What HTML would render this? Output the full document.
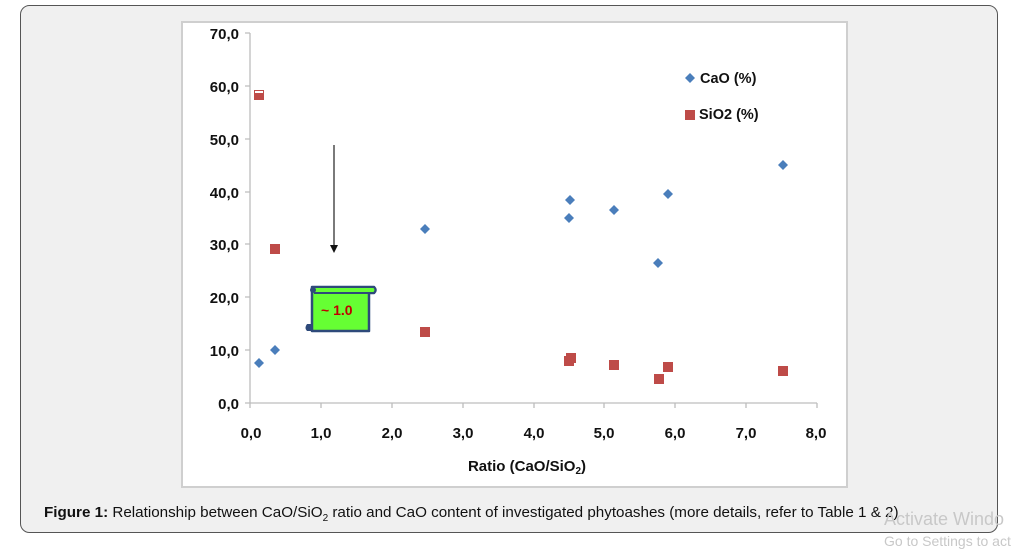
<!DOCTYPE html>
<html><head><meta charset="utf-8"><style>
body{margin:0;width:1018px;height:549px;background:#fff;overflow:hidden;font-family:"Liberation Sans",sans-serif}
</style></head><body>
<svg width="1018" height="549" xmlns="http://www.w3.org/2000/svg" style="position:absolute;left:0;top:0">
<rect x="20.5" y="5.5" width="977" height="527" rx="9" fill="#f0f0f0" stroke="#555" stroke-width="1"/>
<rect x="182" y="22" width="665" height="465" fill="#fff" stroke="#cfcfcf" stroke-width="2"/>
<g stroke="#bdbdbd" stroke-width="1.3" fill="none">
<line x1="250" y1="33" x2="250" y2="403"/>
<line x1="250" y1="403" x2="817" y2="403"/>
<path d="M245 33H250M245 86H250M245 139H250M245 192H250M245 244H250M245 297H250M245 350H250M245 403H250"/>
<path d="M250 403V408M321 403V408M392 403V408M463 403V408M534 403V408M604 403V408M675 403V408M746 403V408M817 403V408"/>
</g>
<g font-family="Liberation Sans, DejaVu Sans, sans-serif" font-weight="bold" font-size="15" fill="#111" text-anchor="end">
<text x="239" y="39">70,0</text><text x="239" y="92">60,0</text><text x="239" y="145">50,0</text><text x="239" y="198">40,0</text><text x="239" y="250">30,0</text><text x="239" y="303">20,0</text><text x="239" y="356">10,0</text><text x="239" y="409">0,0</text>
</g>
<g font-family="Liberation Sans, DejaVu Sans, sans-serif" font-weight="bold" font-size="15" fill="#111" text-anchor="middle">
<text x="251" y="438">0,0</text><text x="321" y="438">1,0</text><text x="392" y="438">2,0</text><text x="463" y="438">3,0</text><text x="534" y="438">4,0</text><text x="604" y="438">5,0</text><text x="675" y="438">6,0</text><text x="746" y="438">7,0</text><text x="816" y="438">8,0</text>
<text x="527" y="471">Ratio (CaO/SiO<tspan font-size="10" dy="3">2</tspan><tspan dy="-3">)</tspan></text>
</g>
<line x1="334" y1="145" x2="334" y2="246" stroke="#333" stroke-width="1.3"/>
<path d="M330 245L334 253L338 245Z" fill="#111"/>
<path d="M312 287H374Q377 290 374 293H369V331H312V287Z" fill="#66ff33" stroke="#2e4a7a" stroke-width="2.5" stroke-linejoin="round"/>
<path d="M312 287H374Q377 290 374 293H314" fill="#66ff33" stroke="#2e4a7a" stroke-width="2"/>
<circle cx="313" cy="290" r="3" fill="#2e4a7a"/>
<path d="M312 324H307Q304 328 307 331H312" fill="#2e4a7a"/>
<text x="321" y="315" font-family="Liberation Sans, sans-serif" font-weight="bold" font-size="14" fill="#c00000">~ 1.0</text>
<g fill="#4a7ebb">
<path d="M259 358l5 5-5 5-5-5z"/>
<path d="M275 345l5 5-5 5-5-5z"/>
<path d="M425 224l5 5-5 5-5-5z"/>
<path d="M569 213l5 5-5 5-5-5z"/>
<path d="M570 195l5 5-5 5-5-5z"/>
<path d="M614 205l5 5-5 5-5-5z"/>
<path d="M658 258l5 5-5 5-5-5z"/>
<path d="M668 189l5 5-5 5-5-5z"/>
<path d="M783 160l5 5-5 5-5-5z"/>
<path d="M690 73l5 5-5 5-5-5z"/>
</g>
<g fill="#be4b48">
<rect x="254" y="90" width="10" height="10"/>
<rect x="270" y="244" width="10" height="10"/>
<rect x="420" y="327" width="10" height="10"/>
<rect x="564" y="356" width="10" height="10"/>
<rect x="566" y="353" width="10" height="10"/>
<rect x="609" y="360" width="10" height="10"/>
<rect x="654" y="374" width="10" height="10"/>
<rect x="663" y="362" width="10" height="10"/>
<rect x="778" y="366" width="10" height="10"/>
<rect x="685" y="110" width="10" height="10"/>
</g>
<rect x="255" y="91" width="8" height="2" fill="#fff"/>
<g font-family="Liberation Sans, DejaVu Sans, sans-serif" font-weight="bold" font-size="14.5" fill="#111">
<text x="700" y="83">CaO (%)</text>
<text x="699" y="119">SiO2 (%)</text>
</g>
<text x="44" y="517" font-family="Liberation Sans, sans-serif" font-size="15.2" fill="#111"><tspan font-weight="bold">Figure 1:</tspan> Relationship between CaO/SiO<tspan font-size="10" dy="4">2</tspan><tspan dy="-4"> ratio and CaO content of investigated phytoashes (more details, refer to Table 1 &amp; 2)</tspan></text>
<text x="884" y="525" font-family="Liberation Sans, sans-serif" font-size="18" fill="#c8c8c8">Activate Windo</text>
<text x="884" y="546" font-family="Liberation Sans, sans-serif" font-size="14" fill="#c8c8c8">Go to Settings to act</text>
</svg>
</body></html>
